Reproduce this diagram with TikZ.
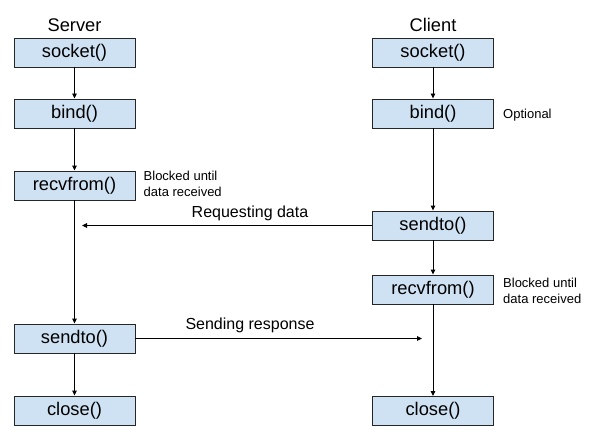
\documentclass[tikz,border=0pt]{standalone}
\usepackage{fontspec}
\setmainfont{Liberation Sans}
\usetikzlibrary{arrows.meta}
\definecolor{boxblue}{HTML}{CFE2F3}

\tikzset{call/.style={draw=black!85,fill=boxblue,line width=0.9pt,minimum width=121pt,minimum height=29pt,inner sep=0pt,font=\fontsize{18.3}{22}\selectfont},
title/.style={font=\fontsize{18.3}{22}\selectfont,anchor=base},
note/.style={anchor=west,align=left,inner sep=0pt,font=\fontsize{13}{16}\selectfont},
msg/.style={font=\fontsize{16}{19}\selectfont},
flow/.style={draw,line width=0.9pt,-{Triangle[length=5pt,width=4.5pt]}}}

\begin{document}
\begin{tikzpicture}[x=1pt,y=-1pt]
\useasboundingbox (0,0) rectangle (597,441);
\path
(74.5,31.5) node[title](st){Server}
(433,31.5) node[title](ct){Client}
(74.5,52.5) node[call](s1){socket()}
(74.5,113.5) node[call](s2){bind()}
(74.5,185.5) node[call](s3){recvfrom()}
(74.5,338.5) node[call](s4){sendto()}
(74.5,410.5) node[call](s5){close()}
(433,52.5) node[call](c1){socket()}
(433,113.5) node[call](c2){bind()}
(433,225.5) node[call](c3){sendto()}
(433,289.5) node[call](c4){recvfrom()}
(433,411) node[call](c5){close()};
\path
(143.5,183.5) node[note](sn){Blocked until\\data received}
(503,290.5) node[note](cn){Blocked until\\data received}
(503,115) node[note](co){Optional}
(250,213) node[msg](rq){Requesting data}
(250,325) node[msg](rs){Sending response};
\coordinate (rqend) at (82,225.5);
\coordinate (rsend) at (422,338.5);
\path[flow] (s1)--(s2);
\path[flow] (s2)--(s3);
\path[flow] (s3)--(s4);
\path[flow] (s4)--(s5);
\path[flow] (c1)--(c2);
\path[flow] (c2)--(c3);
\path[flow] (c3)--(c4);
\path[flow] (c4)--(c5);
\path[flow] (c3.west)--(rqend);
\path[flow] (s4.east)--(rsend);
\end{tikzpicture}
\end{document}
